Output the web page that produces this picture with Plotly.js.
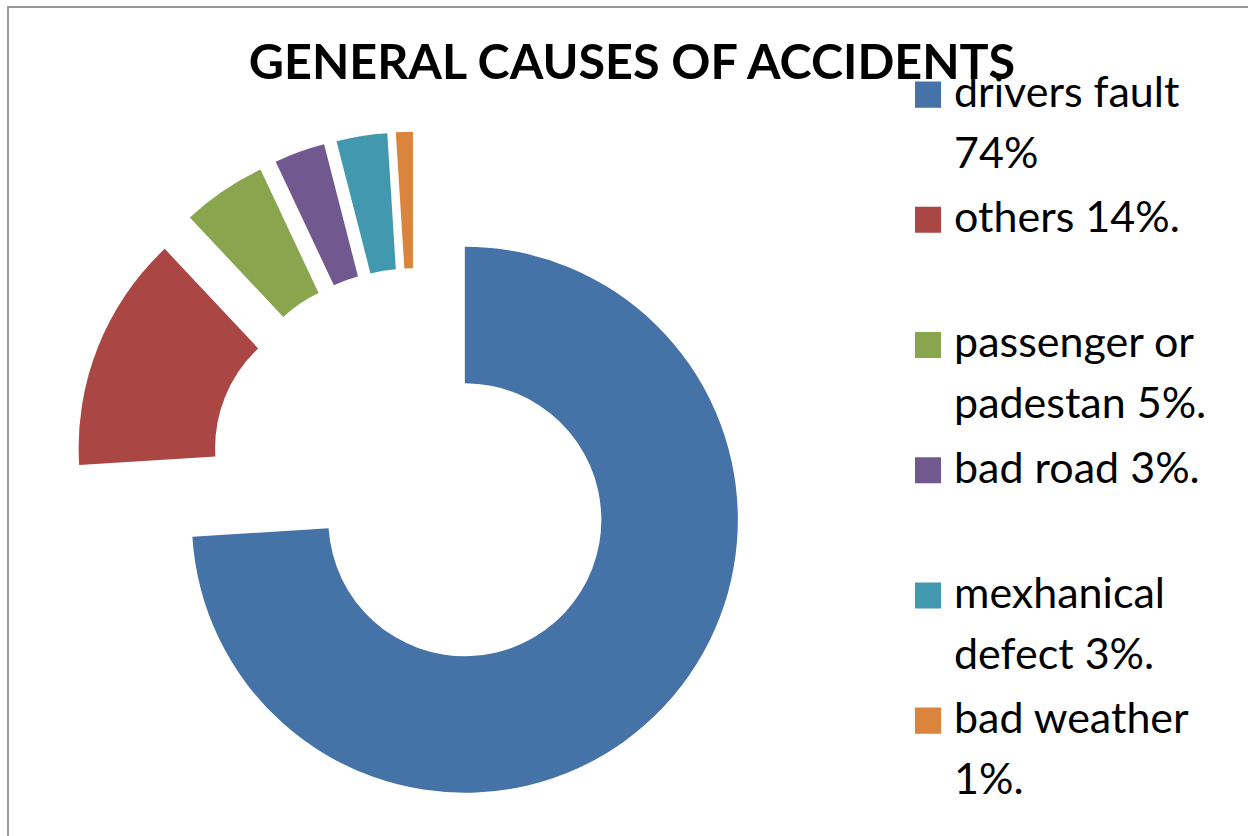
<!DOCTYPE html>
<html>
<head>
<meta charset="utf-8">
<script src="https://cdn.plot.ly/plotly-3.0.1.min.js"></script>
<style>
  html, body { margin: 0; padding: 0; background: #ffffff; overflow: hidden; }
  #wrap { position: relative; width: 1248px; height: 836px; overflow: hidden; }
  #chart { position: absolute; left: 0; top: 0; width: 1248px; height: 836px; }
  #frame { position: absolute; left: 7px; top: 6px; width: 1400px; height: 1000px;
           border-left: 2px solid #9a9a9a; border-top: 2px solid #9a9a9a; pointer-events: none; }
  .legendpie { transform: translate(14px, 6px) scale(2.17); }
</style>
</head>
<body>
<div id="wrap">
  <div id="chart"></div>
  <div id="frame"></div>
</div>
<script>
// ---- data ----
const categories = [
  "drivers fault<br>74%",
  "others 14%.<br> ",
  "passenger or<br>padestan 5%.",
  "bad road 3%.<br> ",
  "mexhanical<br>defect 3%.",
  "bad weather<br>1%."
];
const values = [74, 14, 5, 3, 3, 1];
const sliceColors = ["#4572A7", "#AA4643", "#89A54E", "#71588F", "#4198AF", "#DB843D"];
const chartTitle = "GENERAL CAUSES OF ACCIDENTS";

// legend labels: visible glyph size smaller than the legend line pitch
const labels = categories.map(function (c) {
  return c.split("<br>").map(function (part) {
    return '<span style="font-size:43px">' + part + '</span>';
  }).join("<br>");
});

const trace = {
  type: "pie",
  labels: labels,
  values: values,
  sort: false,
  direction: "clockwise",
  rotation: 0,
  hole: 0.5,
  pull: values.map(function () { return 0.25; }),
  textinfo: "none",
  hoverinfo: "none",
  marker: { colors: sliceColors, line: { width: 0 } },
  domain: { x: [0.0591, 0.6061], y: [0.0260, 0.8424] }
};

const layout = {
  width: 1248,
  height: 836,
  margin: { l: 0, r: 0, t: 0, b: 0 },
  paper_bgcolor: "#ffffff",
  plot_bgcolor: "#ffffff",
  title: {
    text: chartTitle,
    font: { family: "Lato, 'Open Sans', sans-serif", size: 48.5, weight: "bold", color: "#000000" },
    x: 0.5064, xanchor: "center", xref: "container",
    y: 0.9258, yanchor: "middle", yref: "container"
  },
  showlegend: true,
  legend: {
    x: 0.7324, xanchor: "left",
    y: 0.9383, yanchor: "top",
    valign: "top",
    font: { family: "Lato, 'Open Sans', sans-serif", size: 47, color: "#000000" },
    bgcolor: "rgba(0,0,0,0)",
    borderwidth: 0,
    traceorder: "normal"
  }
};

Plotly.newPlot("chart", [trace], layout, { staticPlot: true, displayModeBar: false });
</script>
</body>
</html>
